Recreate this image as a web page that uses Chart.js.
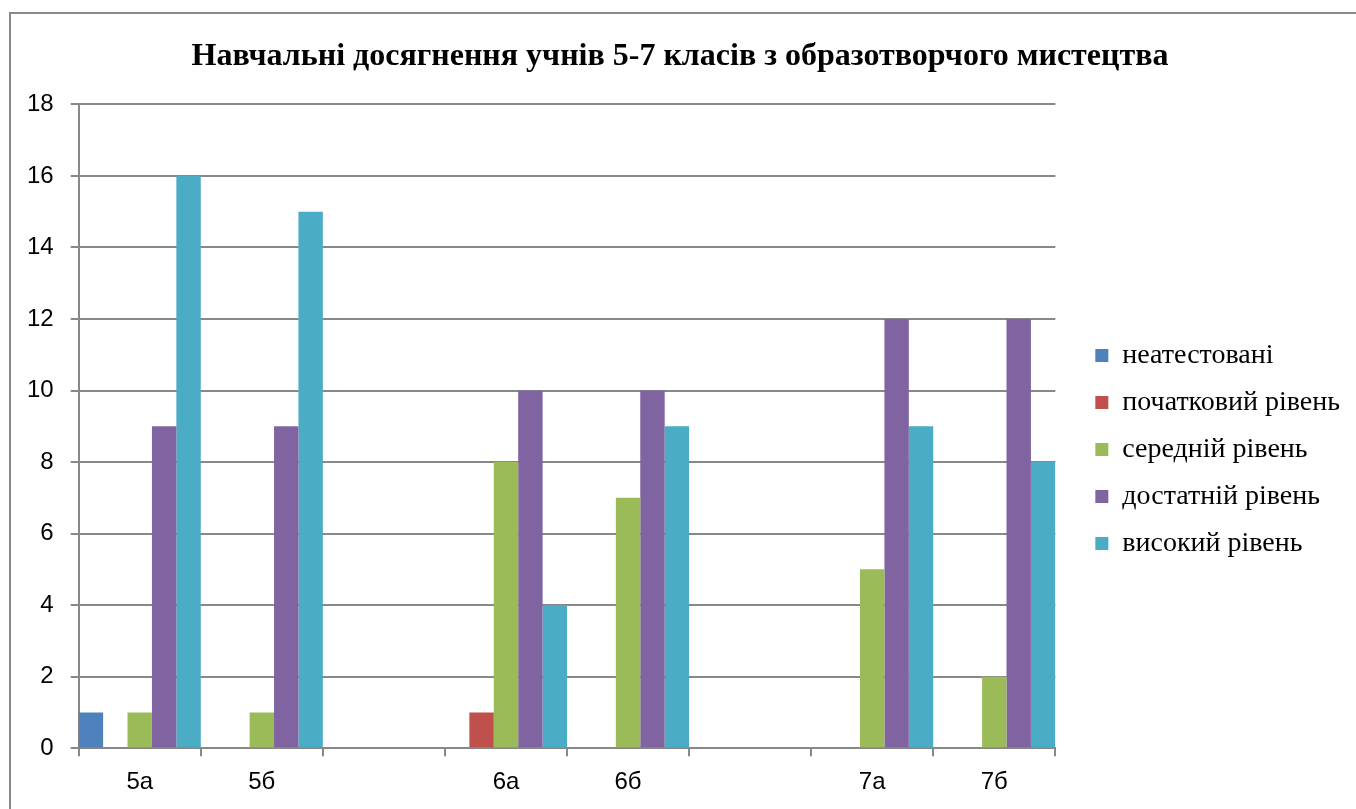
<!DOCTYPE html>
<html>
<head>
<meta charset="utf-8">
<script src="https://cdn.jsdelivr.net/npm/chart.js@4"></script>
<style>
	body{margin:0;background:#fff;overflow:hidden;}
	#frame{position:absolute;left:9px;top:12px;width:1400px;height:900px;border:2px solid #898989;}
	#wrap{position:absolute;left:0;top:0;width:1356px;height:809px;}
</style>
</head>
<body>
<div id="frame"></div>
<div id="wrap"><canvas id="grades-chart"></canvas></div>
<script>
'use strict';

const classes = ['5а', '5б', '', '6а', '6б', '', '7а', '7б'];
const notAttested = [1, 0, null, 0, 0, null, 0, 0];
const initialLevel = [0, 0, null, 1, 0, null, 0, 0];
const averageLevel = [1, 1, null, 8, 7, null, 5, 2];
const sufficientLevel = [9, 9, null, 10, 10, null, 12, 12];
const highLevel = [16, 15, null, 4, 9, null, 9, 8];
const seriesNames = ['неатестовані', 'початковий рівень', 'середній рівень', 'достатній рівень', 'високий рівень'];
const yTicks = [0, 2, 4, 6, 8, 10, 12, 14, 16, 18];

const colors = ['#4F81BD', '#C0504D', '#9BBB59', '#8064A2', '#4BACC6'];
const gridColor = '#888888';
const serif = '"Liberation Serif", "Times New Roman", serif';
const sans = '"Liberation Sans", Arial, sans-serif';
const legendGap = 21; // extra space between the bars and the legend

// the legend box gets wider and its items move right, so there is a gap after the plot
const legendGapPlugin = {
	id: 'legendGap',
	afterInit(chart){
		const legend = chart.legend;
		const fit = legend.fit;
		legend.fit = function(){
			fit.call(this);
			this.width += legendGap;
		};
		const draw = legend.draw;
		legend.draw = function(...args){
			this.left += legendGap;
			draw.apply(this, args);
			this.left -= legendGap;
		};
	}
};

document.addEventListener('DOMContentLoaded', function(){
	const series = [notAttested, initialLevel, averageLevel, sufficientLevel, highLevel];
	new Chart(document.getElementById('grades-chart'), {
		type: 'bar',
		data: {
			labels: classes,
			datasets: series.map((values, i) => ({
				label: seriesNames[i],
				data: values,
				backgroundColor: colors[i],
				borderWidth: 0,
				inflateAmount: 0,
				barPercentage: 1,
				categoryPercentage: 1
			}))
		},
		options: {
			responsive: true,
			maintainAspectRatio: false,
			animation: false,
			layout: {padding: {left: 10, right: 6, top: 22, bottom: 0}},
			plugins: {
				title: {
					display: true,
					text: 'Навчальні досягнення учнів 5-7 класів з образотворчого мистецтва',
					color: '#000',
					font: {family: serif, size: 32, weight: 'bold'},
					padding: {top: 16, bottom: 28}
				},
				legend: {
					position: 'right',
					title: {display: true, text: ' ', font: {size: 10}, padding: {top: 28, bottom: 28}},
					labels: {
						color: '#000',
						font: {family: serif, size: 28},
						boxWidth: 13,
						boxHeight: 13,
						padding: 19
					}
				},
				tooltip: {enabled: false}
			},
			scales: {
				x: {
					grid: {offset: true, drawOnChartArea: false, color: gridColor, lineWidth: 2, tickLength: 8},
					border: {color: gridColor, width: 2},
					ticks: {color: '#000', font: {family: sans, size: 24}, padding: 12}
				},
				y: {
					min: 0,
					max: 18,
					afterBuildTicks: axis => { axis.ticks = yTicks.map(v => ({value: v})); },
					grid: {color: gridColor, lineWidth: 2, tickLength: 8},
					border: {color: gridColor, width: 2},
					ticks: {color: '#000', font: {family: sans, size: 24}, padding: 17}
				}
			}
		},
		plugins: [legendGapPlugin]
	});
});
</script>
</body>
</html>
